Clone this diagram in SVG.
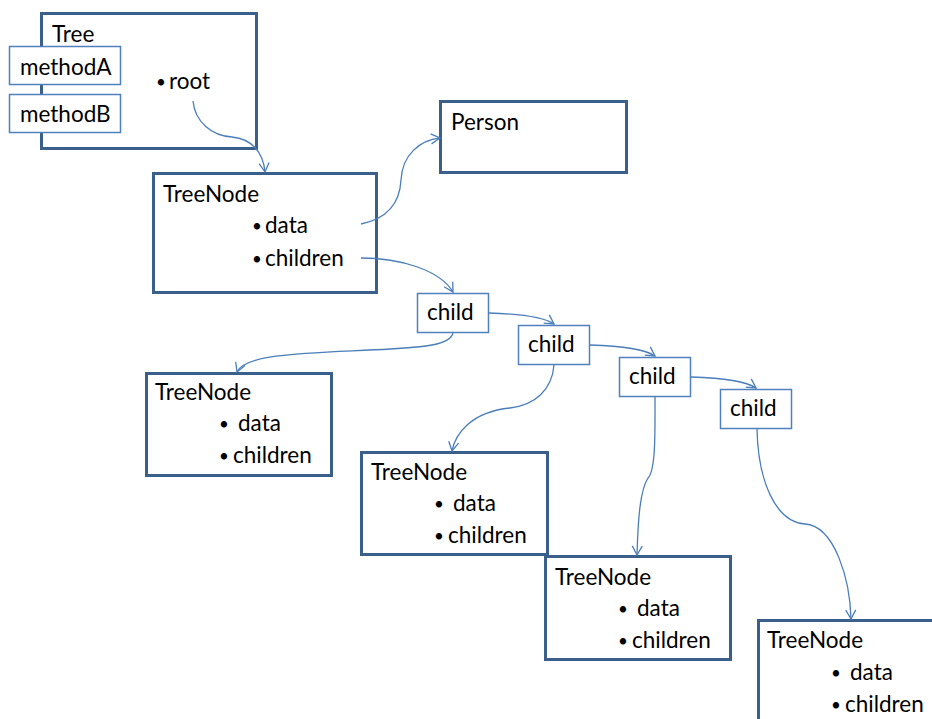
<svg xmlns="http://www.w3.org/2000/svg" width="932" height="719" viewBox="0 0 932 719">
<style>
text{font-family:Lato,"Open Sans","Liberation Sans",sans-serif;font-size:22.5px;fill:#000}
text.b{font-size:17px}
.big{fill:#fff;stroke:#3A5F8B;stroke-width:3}
.sm{fill:#fff;stroke:#4F81BD;stroke-width:1.5}
.c{fill:none;stroke:#4A7EBB;stroke-width:1.3;marker-end:url(#ah)}
</style>
<defs>
<marker id="ah" markerUnits="userSpaceOnUse" markerWidth="14" markerHeight="14" refX="10" refY="6" orient="auto">
<path d="M1,1 L10,6 L1,11" fill="none" stroke="#4A7EBB" stroke-width="1.3"/>
</marker>
</defs>
<rect width="932" height="719" fill="#fff"/>
<g id="tree">
<rect class="big" x="41.5" y="13.5" width="215" height="135"/>
<text x="52" y="42">Tree</text>
<text class="b" x="156" y="88">•</text><text x="169" y="89">root</text>
</g>
<g id="methodA"><rect class="sm" x="9.5" y="46.5" width="111" height="38"/><text x="20" y="75">methodA</text></g>
<g id="methodB"><rect class="sm" x="9.5" y="94.5" width="111" height="38"/><text x="20" y="122">methodB</text></g>
<g id="person"><rect class="big" x="440.5" y="101.5" width="186" height="71"/><text x="451" y="130">Person</text></g>
<g id="treenode1">
<rect class="big" x="153.5" y="173.5" width="223" height="119"/>
<text x="163" y="202">TreeNode</text>
<text class="b" x="252" y="232">•</text><text x="265" y="233">data</text>
<text class="b" x="252" y="265">•</text><text x="265" y="266">children</text>
</g>
<g id="child1"><rect class="sm" x="417.5" y="293.5" width="71" height="39"/><text x="427" y="320">child</text></g>
<g id="child2"><rect class="sm" x="518.5" y="325.5" width="71" height="39"/><text x="528" y="352">child</text></g>
<g id="child3"><rect class="sm" x="619.5" y="357.5" width="71" height="39"/><text x="629" y="384">child</text></g>
<g id="child4"><rect class="sm" x="720.5" y="389.5" width="71" height="39"/><text x="730" y="416">child</text></g>
<g id="treenode2">
<rect class="big" x="146.5" y="373.5" width="185" height="102"/>
<text x="155" y="400">TreeNode</text>
<text class="b" x="219" y="430">•</text><text x="238" y="431">data</text>
<text class="b" x="219" y="462">•</text><text x="233" y="463">children</text>
</g>
<g id="treenode3">
<rect class="big" x="361.5" y="452.5" width="186" height="102"/>
<text x="371" y="480">TreeNode</text>
<text class="b" x="434" y="510">•</text><text x="453" y="511">data</text>
<text class="b" x="434" y="542">•</text><text x="448" y="543">children</text>
</g>
<g id="treenode4">
<rect class="big" x="545.5" y="556.5" width="185" height="103"/>
<text x="555" y="585">TreeNode</text>
<text class="b" x="618" y="615">•</text><text x="637" y="616">data</text>
<text class="b" x="618" y="647">•</text><text x="632" y="648">children</text>
</g>
<g id="treenode5">
<rect class="big" x="758.5" y="620.5" width="190" height="120"/>
<text x="767" y="648">TreeNode</text>
<text class="b" x="831" y="679">•</text><text x="850" y="680">data</text>
<text class="b" x="831" y="711">•</text><text x="845" y="712">children</text>
</g>
<g id="connectors">
<path class="c" d="M193,101 C195,122 212,136 232,137 C252,139 263,152 265,172"/>
<path class="c" d="M361,224 C390,218 400,200 401,180 C402,155 420,140 440,138"/>
<path class="c" d="M361,258 C400,258 440,270 453,292"/>
<path class="c" d="M489,313 C520,314 545,318 554,324"/>
<path class="c" d="M590,345 C621,346 646,350 655,356"/>
<path class="c" d="M691,377 C722,378 747,382 756,388"/>
<path class="c" d="M453,333 C450,345 425,347 390,349 C320,353 245,352 237,372"/>
<path class="c" d="M554,365 C552,390 535,405 510,408 C470,412 455,435 452,451"/>
<path class="c" d="M655,397 C655,430 656,470 648,478 C640,490 638,520 637,555"/>
<path class="c" d="M757,429 C758,480 775,522 805,524 C835,526 850,580 851,619"/>
</g>
</svg>
